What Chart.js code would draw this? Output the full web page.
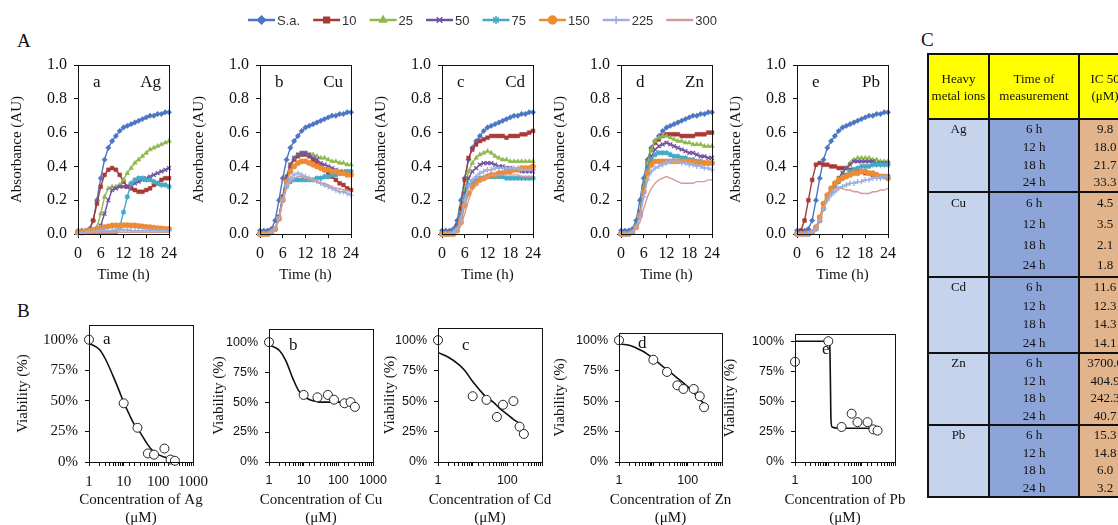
<!DOCTYPE html>
<html lang="en">
<head>
<meta charset="UTF-8">
<title>Heavy metal toxicity</title>
<style>
  body { margin: 0; width: 1118px; height: 525px; overflow: hidden; background: #fff; position: relative; font-family: 'Liberation Serif', 'Times New Roman', serif; }
  .box { position: absolute; }
  .panel { position: absolute; font-size: 19px; color: #111; }
  table.ic { position: absolute; left: 927px; top: 53px; width: 203px; border-collapse: collapse; table-layout: fixed; font-size: 13px; color: #111; }
  table.ic td { border: 2px solid #111; padding: 0; text-align: center; vertical-align: top; overflow: hidden; white-space: nowrap; }
  table.ic tr.head td { background: #ffff00; vertical-align: middle; height: 63px; line-height: 17px; }
  td.c1 { background: #c5d3ec; }
  td.c2 { background: #8da4d8; }
  td.c3 { background: #e2b48b; }
</style>
</head>
<body>
<div class="panel" style="left:17px; top:30px;">A</div>
<div class="panel" style="left:17px; top:300px;">B</div>
<div class="panel" style="left:921px; top:29px;">C</div>

<div class="box" style="left:230px; top:0px;"><canvas id="legend" width="510" height="40"></canvas></div>

<div class="box" style="left:8px; top:50px;"><canvas id="absAg" width="171" height="234"></canvas></div>
<div class="box" style="left:190px; top:50px;"><canvas id="absCu" width="171" height="234"></canvas></div>
<div class="box" style="left:372px; top:50px;"><canvas id="absCd" width="171" height="234"></canvas></div>
<div class="box" style="left:551px; top:50px;"><canvas id="absZn" width="171" height="234"></canvas></div>
<div class="box" style="left:727px; top:50px;"><canvas id="absPb" width="171" height="234"></canvas></div>

<div class="box" style="left:14px; top:317px;"><canvas id="viaAg" width="211" height="210"></canvas></div>
<div class="box" style="left:210px; top:321px;"><canvas id="viaCu" width="195" height="206"></canvas></div>
<div class="box" style="left:381px; top:320px;"><canvas id="viaCd" width="193" height="207"></canvas></div>
<div class="box" style="left:551px; top:325px;"><canvas id="viaZn" width="203" height="202"></canvas></div>
<div class="box" style="left:721px; top:326px;"><canvas id="viaPb" width="206" height="201"></canvas></div>

<table class="ic" id="icTable"></table>

<script src="https://cdn.jsdelivr.net/npm/chart.js"></script>
<script>
// ---- data: growth curves (absorbance, read hourly 0..24 h) ----
const TIME_H = [0, 1, 2, 3, 4, 5, 6, 7, 8, 9, 10, 11, 12, 13, 14, 15, 16, 17, 18, 19, 20, 21, 22, 23, 24];
const SERIES = ['S.a.', '10', '25', '50', '75', '150', '225', '300'];

const saCtrl = [0.02, 0.02, 0.02, 0.03, 0.08, 0.20, 0.33, 0.44, 0.51, 0.55, 0.58, 0.61, 0.63, 0.64, 0.65, 0.66, 0.67, 0.68, 0.69, 0.70, 0.70, 0.71, 0.71, 0.72, 0.72];

const ag10 = [0.01, 0.01, 0.01, 0.02, 0.08, 0.18, 0.28, 0.35, 0.38, 0.39, 0.38, 0.35, 0.31, 0.28, 0.27, 0.26, 0.25, 0.25, 0.26, 0.27, 0.29, 0.30, 0.32, 0.33, 0.33];
const ag25 = [0.01, 0.01, 0.01, 0.01, 0.01, 0.04, 0.12, 0.22, 0.27, 0.28, 0.28, 0.29, 0.32, 0.36, 0.39, 0.42, 0.44, 0.46, 0.48, 0.50, 0.51, 0.52, 0.53, 0.54, 0.55];
const ag50 = [0.01, 0.01, 0.01, 0.01, 0.01, 0.01, 0.05, 0.12, 0.20, 0.26, 0.27, 0.28, 0.28, 0.28, 0.29, 0.30, 0.31, 0.32, 0.33, 0.34, 0.35, 0.36, 0.37, 0.38, 0.39];
const ag75 = [0.01, 0.01, 0.01, 0.01, 0.01, 0.01, 0.01, 0.01, 0.01, 0.01, 0.01, 0.04, 0.13, 0.22, 0.30, 0.32, 0.33, 0.33, 0.32, 0.32, 0.31, 0.30, 0.29, 0.29, 0.28];
const ag150 = [0.01, 0.01, 0.015, 0.02, 0.025, 0.03, 0.035, 0.04, 0.045, 0.05, 0.05, 0.05, 0.052, 0.052, 0.05, 0.05, 0.048, 0.045, 0.042, 0.04, 0.037, 0.035, 0.033, 0.03, 0.03];
const ag225 = [0.0, 0.005, 0.01, 0.01, 0.015, 0.015, 0.02, 0.02, 0.02, 0.02, 0.025, 0.025, 0.025, 0.025, 0.02, 0.02, 0.02, 0.02, 0.02, 0.02, 0.02, 0.02, 0.02, 0.02, 0.02];
const ag300 = [0.0, 0.0, 0.005, 0.005, 0.01, 0.01, 0.01, 0.01, 0.01, 0.01, 0.01, 0.01, 0.01, 0.01, 0.01, 0.01, 0.01, 0.01, 0.01, 0.01, 0.01, 0.01, 0.01, 0.01, 0.01];

const cu10 = [0.0, 0.0, 0.0, 0.01, 0.03, 0.10, 0.22, 0.33, 0.40, 0.44, 0.46, 0.47, 0.47, 0.46, 0.44, 0.42, 0.40, 0.38, 0.36, 0.34, 0.32, 0.30, 0.29, 0.27, 0.26];
const cu25 = [0.0, 0.0, 0.0, 0.01, 0.03, 0.10, 0.22, 0.34, 0.41, 0.45, 0.47, 0.48, 0.48, 0.47, 0.47, 0.46, 0.45, 0.45, 0.44, 0.43, 0.43, 0.42, 0.42, 0.41, 0.41];
const cu50 = [0.0, 0.0, 0.0, 0.01, 0.03, 0.10, 0.22, 0.34, 0.41, 0.45, 0.47, 0.48, 0.48, 0.47, 0.45, 0.44, 0.42, 0.41, 0.40, 0.39, 0.38, 0.37, 0.37, 0.36, 0.36];
const cu75 = [0.0, 0.0, 0.0, 0.01, 0.03, 0.09, 0.20, 0.28, 0.31, 0.32, 0.32, 0.32, 0.32, 0.32, 0.32, 0.33, 0.33, 0.34, 0.34, 0.35, 0.35, 0.36, 0.36, 0.37, 0.37];
const cu150 = [0.0, 0.0, 0.0, 0.01, 0.03, 0.09, 0.20, 0.31, 0.37, 0.40, 0.42, 0.43, 0.43, 0.42, 0.41, 0.40, 0.39, 0.38, 0.38, 0.37, 0.37, 0.36, 0.36, 0.35, 0.35];
const cu225 = [0.0, 0.0, 0.0, 0.01, 0.03, 0.09, 0.20, 0.29, 0.33, 0.35, 0.36, 0.35, 0.34, 0.33, 0.32, 0.31, 0.30, 0.29, 0.28, 0.27, 0.26, 0.25, 0.25, 0.24, 0.23];
const cu300 = [0.0, 0.0, 0.0, 0.01, 0.03, 0.08, 0.19, 0.27, 0.31, 0.33, 0.34, 0.34, 0.33, 0.33, 0.32, 0.31, 0.30, 0.30, 0.29, 0.28, 0.27, 0.27, 0.26, 0.26, 0.25];

const cd10 = [0.0, 0.0, 0.0, 0.01, 0.05, 0.15, 0.32, 0.45, 0.50, 0.53, 0.55, 0.56, 0.57, 0.58, 0.58, 0.58, 0.58, 0.57, 0.58, 0.58, 0.58, 0.59, 0.59, 0.60, 0.61];
const cd25 = [0.0, 0.0, 0.0, 0.01, 0.04, 0.12, 0.26, 0.37, 0.42, 0.45, 0.47, 0.48, 0.49, 0.48, 0.46, 0.45, 0.44, 0.44, 0.43, 0.43, 0.43, 0.43, 0.43, 0.43, 0.43];
const cd50 = [0.0, 0.0, 0.0, 0.01, 0.04, 0.11, 0.24, 0.33, 0.37, 0.39, 0.41, 0.42, 0.42, 0.42, 0.41, 0.40, 0.40, 0.39, 0.39, 0.38, 0.38, 0.37, 0.37, 0.37, 0.37];
const cd75 = [0.0, 0.0, 0.0, 0.01, 0.03, 0.10, 0.22, 0.29, 0.31, 0.32, 0.33, 0.33, 0.34, 0.34, 0.34, 0.34, 0.34, 0.33, 0.33, 0.33, 0.33, 0.33, 0.33, 0.33, 0.33];
const cd150 = [0.0, 0.0, 0.0, 0.0, 0.02, 0.07, 0.17, 0.24, 0.28, 0.30, 0.32, 0.33, 0.34, 0.35, 0.35, 0.36, 0.36, 0.37, 0.37, 0.38, 0.38, 0.39, 0.39, 0.39, 0.40];
const cd225 = [0.0, 0.0, 0.0, 0.01, 0.03, 0.09, 0.20, 0.28, 0.32, 0.34, 0.36, 0.37, 0.38, 0.38, 0.39, 0.39, 0.39, 0.39, 0.39, 0.39, 0.39, 0.38, 0.38, 0.38, 0.38];
const cd300 = [0.0, 0.0, 0.0, 0.0, 0.01, 0.05, 0.12, 0.20, 0.26, 0.29, 0.31, 0.33, 0.34, 0.35, 0.35, 0.35, 0.35, 0.35, 0.35, 0.35, 0.35, 0.34, 0.34, 0.34, 0.34];

const zn10 = [0.0, 0.0, 0.0, 0.01, 0.05, 0.13, 0.28, 0.42, 0.50, 0.54, 0.56, 0.58, 0.59, 0.59, 0.59, 0.59, 0.58, 0.58, 0.58, 0.58, 0.59, 0.59, 0.59, 0.60, 0.60];
const zn25 = [0.0, 0.0, 0.0, 0.01, 0.05, 0.13, 0.28, 0.42, 0.50, 0.55, 0.57, 0.58, 0.58, 0.57, 0.56, 0.55, 0.55, 0.54, 0.54, 0.53, 0.53, 0.53, 0.52, 0.52, 0.52];
const zn50 = [0.0, 0.0, 0.0, 0.01, 0.05, 0.12, 0.26, 0.39, 0.46, 0.50, 0.52, 0.53, 0.54, 0.53, 0.52, 0.51, 0.50, 0.49, 0.48, 0.48, 0.47, 0.46, 0.46, 0.45, 0.45];
const zn75 = [0.0, 0.0, 0.0, 0.01, 0.05, 0.12, 0.26, 0.38, 0.44, 0.47, 0.48, 0.48, 0.48, 0.47, 0.46, 0.46, 0.45, 0.45, 0.44, 0.44, 0.43, 0.43, 0.42, 0.42, 0.42];
const zn150 = [0.0, 0.0, 0.0, 0.01, 0.04, 0.11, 0.25, 0.36, 0.41, 0.43, 0.43, 0.43, 0.43, 0.43, 0.43, 0.43, 0.43, 0.43, 0.43, 0.43, 0.42, 0.42, 0.42, 0.42, 0.42];
const zn225 = [0.0, 0.0, 0.0, 0.01, 0.04, 0.10, 0.22, 0.32, 0.37, 0.39, 0.40, 0.41, 0.42, 0.43, 0.43, 0.43, 0.42, 0.42, 0.41, 0.41, 0.40, 0.40, 0.39, 0.39, 0.38];
const zn300 = [0.0, 0.0, 0.0, 0.01, 0.03, 0.07, 0.15, 0.22, 0.27, 0.30, 0.32, 0.33, 0.34, 0.33, 0.32, 0.31, 0.30, 0.30, 0.30, 0.30, 0.31, 0.31, 0.31, 0.32, 0.32];

const pb10 = [0.0, 0.02, 0.08, 0.20, 0.32, 0.41, 0.42, 0.41, 0.41, 0.40, 0.40, 0.39, 0.39, 0.39, 0.38, 0.38, 0.37, 0.37, 0.36, 0.36, 0.35, 0.35, 0.34, 0.34, 0.34];
const pb25 = [0.0, 0.0, 0.0, 0.0, 0.01, 0.03, 0.08, 0.16, 0.22, 0.27, 0.30, 0.33, 0.36, 0.39, 0.42, 0.44, 0.45, 0.45, 0.45, 0.45, 0.44, 0.44, 0.43, 0.43, 0.43];
const pb50 = [0.0, 0.0, 0.0, 0.0, 0.01, 0.03, 0.08, 0.16, 0.22, 0.27, 0.30, 0.33, 0.36, 0.39, 0.41, 0.43, 0.43, 0.43, 0.43, 0.43, 0.43, 0.42, 0.42, 0.42, 0.42];
const pb75 = [0.0, 0.0, 0.0, 0.0, 0.01, 0.03, 0.08, 0.15, 0.21, 0.25, 0.28, 0.31, 0.33, 0.35, 0.37, 0.38, 0.39, 0.40, 0.40, 0.40, 0.41, 0.41, 0.41, 0.41, 0.41];
const pb150 = [0.0, 0.0, 0.0, 0.0, 0.01, 0.04, 0.10, 0.18, 0.23, 0.27, 0.30, 0.32, 0.33, 0.34, 0.35, 0.36, 0.36, 0.37, 0.37, 0.36, 0.36, 0.35, 0.34, 0.34, 0.33];
const pb225 = [0.0, 0.0, 0.0, 0.0, 0.01, 0.03, 0.08, 0.15, 0.20, 0.23, 0.25, 0.27, 0.28, 0.29, 0.30, 0.30, 0.31, 0.31, 0.32, 0.32, 0.33, 0.33, 0.33, 0.34, 0.34];
const pb300 = [0.0, 0.0, 0.0, 0.0, 0.01, 0.03, 0.08, 0.15, 0.21, 0.25, 0.27, 0.27, 0.27, 0.26, 0.26, 0.25, 0.25, 0.24, 0.24, 0.24, 0.25, 0.25, 0.26, 0.26, 0.27];

// ---- data: viability vs concentration ----
const CONC = [1, 10, 25, 50, 75, 150, 225, 300];
const agViab = [100, 48, 28, 7, 6, 11, 2, 1];
const cuViab = [100, 56, 54, 56, 52, 49, 50, 46];
const cdViab = [100, 54, 51, 37, 47, 50, 29, 23];
const znViab = [100, 84, 74, 63, 60, 60, 54, 45];
const pbViab = [83, 100, 29, 40, 33, 33, 27, 26];

// fitted curves
const agFitX = [1, 2, 3, 5, 7, 10, 15, 20, 30, 50, 70, 100, 150, 200, 300];
const agFitY = [97, 92, 84, 70, 60, 49, 38, 31, 24, 14, 9, 6, 4, 3, 2];
const cuFitX = [1, 2, 3, 5, 7, 10, 15, 20, 30, 50, 100, 200, 300];
const cuFitY = [98, 93, 85, 69, 60, 55, 52, 51, 50, 50, 50, 50, 50];
const cdFitX = [1, 2, 4, 6, 10, 15, 25, 40, 60, 100, 150, 250];
const cdFitY = [90, 86, 80, 75, 66, 60, 53, 49, 44, 39, 35, 31];
const znFitX = [1, 2, 3, 5, 10, 20, 30, 50, 75, 100, 150, 200, 300];
const znFitY = [97, 96, 94, 91, 85, 78, 74, 69, 65, 62, 57, 53, 48];
const pbFitX = [1, 10, 11, 11.5, 12, 13, 20, 50, 100, 200, 300];
const pbFitY = [100, 100, 98, 70, 35, 29, 28, 28, 28, 28, 28];

// ---- data: IC50 table ----
const METALS = ['Ag', 'Cu', 'Cd', 'Zn', 'Pb'];
const TIMES = ['6 h', '12 h', '18 h', '24 h'];
const icAg = [9.8, 18.0, 21.7, 33.3];
const icCu = [4.5, 3.5, 2.1, 1.8];
const icCd = [11.6, 12.3, 14.3, 14.1];
const icZn = [3700.0, 404.9, 242.3, 40.7];
const icPb = [15.3, 14.8, 6.0, 3.2];

// ---- styles ----
const COLORS = ['#4a76c4', '#a83a36', '#8fb84e', '#7150a0', '#45a9c6', '#ee8b32', '#9db1e1', '#d59b99'];
const MARKERS = ['rectRot', 'rect', 'triangle', 'crossRot', 'star', 'circle', 'cross', false];
const SERIF = "'Liberation Serif', 'Times New Roman', serif";
const SANS = "'Liberation Sans', Arial, sans-serif";

// frame around the plot area, panel letters and (multi-line) x title
const panelText = {
    id: 'panelText',
    afterDraw(chart, args, opts) {
        const { ctx, chartArea: a } = chart;
        ctx.save();
        ctx.strokeStyle = '#111';
        ctx.lineWidth = 1;
        ctx.strokeRect(Math.round(a.left) + 0.5, Math.round(a.top) + 0.5, Math.round(a.right - a.left), Math.round(a.bottom - a.top));
        ctx.font = '17px ' + SERIF;
        ctx.fillStyle = '#111';
        ctx.textBaseline = 'middle';
        if (opts.letter) {
            ctx.textAlign = 'left';
            ctx.fillText(opts.letter, a.left + opts.dx, a.top + opts.dy);
        }
        if (opts.metal) {
            ctx.textAlign = 'right';
            ctx.fillText(opts.metal, a.right - 8, a.top + opts.dy);
        }
        if (opts.xTitle) {
            ctx.font = '15px ' + SERIF;
            ctx.textAlign = 'center';
            opts.xTitle.forEach((line, i) => {
                ctx.fillText(line, (a.left + a.right) / 2, a.bottom + 38 + i * 18);
            });
        }
        ctx.restore();
    }
};

// fixed scale boxes so the plot areas land where the figure has them
function fixX(h) { return s => { s.height = h; s.paddingLeft = 0; s.paddingRight = 0; }; }
function fixY(w) { return s => { s.width = w; s.paddingTop = 0; s.paddingBottom = 0; }; }

function absorbanceChart(id, seriesList, letter, metal) {
    new Chart(document.getElementById(id), {
        type: 'line',
        data: {
            datasets: seriesList.map((vals, i) => ({
                label: SERIES[i],
                data: vals.map((v, k) => ({ x: TIME_H[k], y: v })),
                borderColor: COLORS[i],
                backgroundColor: COLORS[i],
                borderWidth: 1.4,
                pointStyle: MARKERS[i],
                pointRadius: MARKERS[i] ? 2.7 : 0,
                pointBorderWidth: (MARKERS[i] === 'crossRot' || MARKERS[i] === 'star' || MARKERS[i] === 'cross') ? 1.3 : 0.5,
                order: 8 - i,
                clip: 4
            }))
        },
        options: {
            responsive: false,
            animation: false,
            layout: { padding: { top: 15, right: 10 } },
            plugins: {
                legend: { display: false },
                tooltip: { enabled: false },
                panelText: { letter, metal, dx: 15, dy: 18 }
            },
            scales: {
                x: {
                    type: 'linear', min: 0, max: 24,
                    ticks: { stepSize: 6, color: '#111', font: { family: SERIF, size: 16 }, maxRotation: 0, padding: 6 },
                    grid: { drawOnChartArea: false, tickLength: 4, color: '#111' },
                    border: { color: '#111' },
                    title: { display: true, text: 'Time (h)', color: '#111', font: { family: SERIF, size: 15 }, padding: 0 },
                    afterFit: fixX(50)
                },
                y: {
                    min: 0, max: 1,
                    ticks: { stepSize: 0.2, color: '#111', font: { family: SERIF, size: 16 }, padding: 7, callback: v => v.toFixed(1) },
                    grid: { drawOnChartArea: false, tickLength: 4, color: '#111' },
                    border: { color: '#111' },
                    title: { display: true, text: 'Absorbance (AU)', color: '#111', font: { family: SERIF, size: 15 }, padding: 0 },
                    afterFit: fixY(70)
                }
            }
        },
        plugins: [panelText]
    });
}

function viabilityChart(id, viab, fitX, fitY, cfg) {
    const tickFont = cfg.serifTicks ? { family: SERIF, size: 15 } : { family: SANS, size: 12.5 };
    new Chart(document.getElementById(id), {
        type: 'scatter',
        data: {
            datasets: [
                {
                    data: fitX.map((x, i) => ({ x, y: fitY[i] })),
                    showLine: true,
                    borderColor: '#111',
                    borderWidth: 1.6,
                    pointRadius: 0,
                    cubicInterpolationMode: 'monotone',
                    order: 2
                },
                {
                    data: CONC.map((x, i) => ({ x, y: viab[i] })),
                    pointStyle: 'circle',
                    pointRadius: 4.5,
                    backgroundColor: '#fff',
                    borderColor: '#222',
                    pointBorderWidth: 1,
                    clip: false,
                    order: 1
                }
            ]
        },
        options: {
            responsive: false,
            animation: false,
            layout: { padding: { top: 8, right: 32 } },
            plugins: {
                legend: { display: false },
                tooltip: { enabled: false },
                panelText: { letter: cfg.letter, dx: cfg.dx, dy: cfg.dy, xTitle: ['Concentration of ' + cfg.metal, '(\u03bcM)'] }
            },
            scales: {
                x: {
                    type: 'logarithmic', min: 1, max: 1000,
                    ticks: {
                        autoSkip: false, maxRotation: 0, color: '#111', font: tickFont, padding: 7,
                        callback: v => cfg.xLabels.includes(v) ? String(v) : ''
                    },
                    grid: { drawOnChartArea: false, tickLength: 4, color: '#111' },
                    border: { color: '#111' },
                    afterFit: fixX(65)
                },
                y: {
                    min: 0, max: cfg.yMax,
                    afterBuildTicks: s => { s.ticks = [0, 25, 50, 75, 100].map(v => ({ value: v })); },
                    ticks: { color: '#111', font: tickFont, padding: 7, callback: v => v + '%' },
                    grid: { drawOnChartArea: false, tickLength: 4, color: '#111' },
                    border: { color: '#111' },
                    title: { display: true, text: 'Viability (%)', color: '#111', font: { family: SERIF, size: 15 }, padding: 0 },
                    afterFit: fixY(cfg.yWidth)
                }
            }
        },
        plugins: [panelText]
    });
}

// series legend drawn across the top
const seriesLegend = {
    id: 'seriesLegend',
    afterDraw(chart) {
        const ctx = chart.ctx;
        const y = 20;
        let x = 18;
        ctx.save();
        ctx.font = '13px ' + SANS;
        ctx.textBaseline = 'middle';
        chart.data.datasets.forEach(ds => {
            ctx.strokeStyle = ds.borderColor;
            ctx.fillStyle = ds.backgroundColor;
            ctx.lineWidth = 2.5;
            ctx.beginPath();
            ctx.moveTo(x, y);
            ctx.lineTo(x + 27, y);
            ctx.stroke();
            if (ds.pointStyle && Chart.helpers && Chart.helpers.drawPoint) {
                ctx.lineWidth = 1.5;
                Chart.helpers.drawPoint(ctx, { pointStyle: ds.pointStyle, radius: 4, rotation: 0, borderWidth: 1.5 }, x + 13.5, y);
            }
            ctx.fillStyle = '#333';
            ctx.textAlign = 'left';
            ctx.fillText(ds.label, x + 29, y + 1);
            x += 29 + ctx.measureText(ds.label).width + 13;
        });
        ctx.restore();
    }
};

new Chart(document.getElementById('legend'), {
    type: 'line',
    data: {
        datasets: SERIES.map((name, i) => ({
            label: name, data: [], borderColor: COLORS[i], backgroundColor: COLORS[i], pointStyle: MARKERS[i]
        }))
    },
    options: {
        responsive: false,
        animation: false,
        plugins: { legend: { display: false }, tooltip: { enabled: false } },
        scales: { x: { display: false }, y: { display: false } }
    },
    plugins: [seriesLegend]
});

absorbanceChart('absAg', [saCtrl, ag10, ag25, ag50, ag75, ag150, ag225, ag300], 'a', 'Ag');
absorbanceChart('absCu', [saCtrl, cu10, cu25, cu50, cu75, cu150, cu225, cu300], 'b', 'Cu');
absorbanceChart('absCd', [saCtrl, cd10, cd25, cd50, cd75, cd150, cd225, cd300], 'c', 'Cd');
absorbanceChart('absZn', [saCtrl, zn10, zn25, zn50, zn75, zn150, zn225, zn300], 'd', 'Zn');
absorbanceChart('absPb', [saCtrl, pb10, pb25, pb50, pb75, pb150, pb225, pb300], 'e', 'Pb');

viabilityChart('viaAg', agViab, agFitX, agFitY, { metal: 'Ag', letter: 'a', dx: 14, dy: 15, yMax: 112, yWidth: 75, serifTicks: true, xLabels: [1, 10, 100, 1000] });
viabilityChart('viaCu', cuViab, cuFitX, cuFitY, { metal: 'Cu', letter: 'b', dx: 20, dy: 17, yMax: 111, yWidth: 59, xLabels: [1, 10, 100, 1000] });
viabilityChart('viaCd', cdViab, cdFitX, cdFitY, { metal: 'Cd', letter: 'c', dx: 24, dy: 18, yMax: 110, yWidth: 57, xLabels: [1, 100] });
viabilityChart('viaZn', znViab, znFitX, znFitY, { metal: 'Zn', letter: 'd', dx: 19, dy: 11, yMax: 106, yWidth: 68, xLabels: [1, 100] });
viabilityChart('viaPb', pbViab, pbFitX, pbFitY, { metal: 'Pb', letter: 'e', dx: 27, dy: 16, yMax: 106, yWidth: 74, xLabels: [1, 100] });

// IC50 table
const IC50 = [icAg, icCu, icCd, icZn, icPb];
const groupHeights = [73, 85, 76, 72, 72];
let html = '<colgroup><col style="width:61px"><col style="width:90px"><col style="width:52px"></colgroup>';
html += '<tr class="head"><td class="h">Heavy<br>metal ions</td><td>Time of<br>measurement</td><td>IC 50<br>(\u03bcM)</td></tr>';
METALS.forEach((m, g) => {
    const lh = (groupHeights[g] - 2) / 4;
    const col2 = TIMES.map(t => `<div style="height:${lh}px;line-height:${lh}px">${t}</div>`).join('');
    const col3 = IC50[g].map(v => `<div style="height:${lh}px;line-height:${lh}px">${v.toFixed(1)}</div>`).join('');
    html += `<tr><td class="c1"><div style="height:${lh}px;line-height:${lh}px">${m}</div></td><td class="c2">${col2}</td><td class="c3">${col3}</td></tr>`;
});
document.getElementById('icTable').innerHTML = html;
</script>
</body>
</html>
